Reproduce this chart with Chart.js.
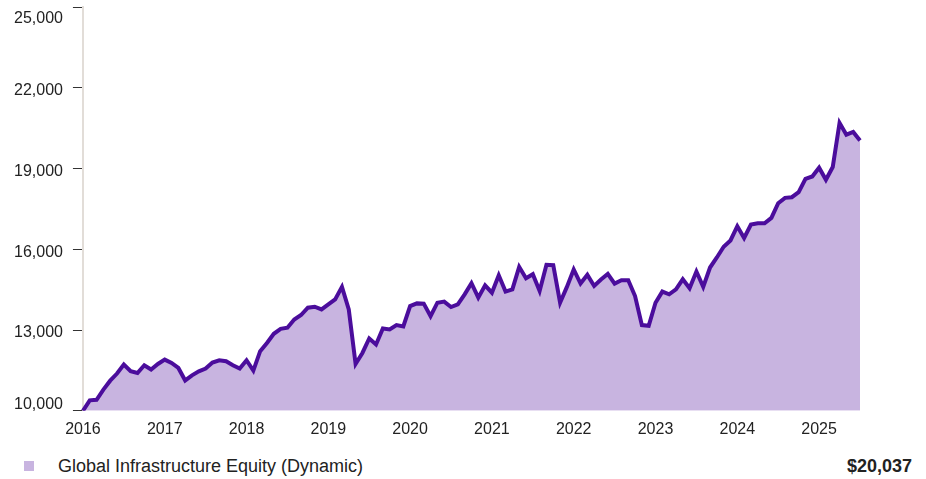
<!DOCTYPE html>
<html>
<head>
<meta charset="utf-8">
<script src="https://cdn.jsdelivr.net/npm/chart.js@4"></script>
<style>
  body { margin: 0; background: #fff; font-family: "Liberation Sans", Arial, sans-serif; }
  #wrap { position: relative; width: 926px; height: 479px; }
  #chartBox { position: absolute; left: 0; top: 0; width: 926px; height: 449px; }
  .legend { position: absolute; left: 0; top: 455px; width: 926px; height: 22px; font-size: 18px; color: #222; }
  .swatch { position: absolute; left: 24px; top: 6px; width: 10px; height: 10px; background: #c8b4e0; }
  .name { position: absolute; left: 58px; top: 1px; }
  .total { position: absolute; right: 14px; top: 1px; font-weight: bold; }
</style>
</head>
<body>
<div id="wrap">
  <div id="chartBox"><canvas id="grafico"></canvas></div>
  <div class="legend">
    <span class="swatch"></span>
    <span class="name" id="serieNombre"></span>
    <span class="total" id="serieTotal"></span>
  </div>
</div>
<script>
// datos (valor mensual de una inversion de 10.000)
const serieNombre = 'Global Infrastructure Equity (Dynamic)';
const anioInicio = 2016;
const etiquetasAnios = ['2016', '2017', '2018', '2019', '2020', '2021', '2022', '2023', '2024', '2025'];
const ticksY = [10000, 13000, 16000, 19000, 22000, 25000];
const valores = [
  10000, 10388, 10408, 10786, 11119, 11383, 11716, 11468, 11403, 11692, 11532, 11741,
  11900, 11776, 11592, 11129, 11318, 11468, 11567, 11790, 11877, 11840, 11692, 11567,
  11877, 11492, 12214, 12522, 12860, 13045, 13085, 13393, 13557, 13830, 13865, 13766,
  13955, 14139, 14602, 13766, 11741, 12149, 12686, 12463, 13060, 13020, 13184, 13134,
  13890, 13990, 13980, 13517, 14015, 14055, 13856, 13955, 14328, 14740, 14204, 14662,
  14388, 15035, 14428, 14512, 15348, 14925, 15075, 14453, 15423, 15408, 14015, 14602,
  15249, 14726, 15050, 14637, 14876, 15085, 14726, 14851, 14851, 14264, 13184, 13159,
  14015, 14428, 14328, 14512, 14885, 14552, 15174, 14602, 15323, 15696, 16094, 16328,
  16856, 16418, 16915, 16965, 16965, 17164, 17711, 17910, 17935, 18119, 18617, 18706,
  19030, 18582, 19055, 20696, 20258, 20358, 20037
];

// etiquetas mensuales (AAAA-MM)
const meses = valores.map((v, i) => {
  const anio = anioInicio + Math.floor(i / 12);
  const mes = (i % 12) + 1;
  return anio + '-' + String(mes).padStart(2, '0');
});

document.getElementById('serieNombre').textContent = serieNombre;
document.getElementById('serieTotal').textContent = '$' + valores[valores.length - 1].toLocaleString('en-US');

// las etiquetas del eje Y van un poco desplazadas respecto a sus marcas
const etiquetasY = {
  id: 'etiquetasY',
  afterDraw(chart) {
    const s = chart.scales.y;
    const c = chart.ctx;
    c.save();
    c.font = '16px "Liberation Sans", Arial';
    c.fillStyle = '#222';
    c.textAlign = 'right';
    c.textBaseline = 'middle';
    ticksY.forEach((v, i) => {
      let y = s.getPixelForValue(v);
      if (i === 0) y -= 6;
      else if (i === ticksY.length - 1) y += 12;
      else y += 3;
      c.fillText(v.toLocaleString('en-US'), s.right - 20, y);
    });
    c.restore();
  }
};

const ctx = document.getElementById('grafico').getContext('2d');
new Chart(ctx, {
  type: 'line',
  data: {
    labels: meses,
    datasets: [{
      label: serieNombre,
      data: valores,
      borderColor: '#4b0d9c',
      backgroundColor: '#c8b4e0',
      borderWidth: 4,
      pointRadius: 0,
      tension: 0,
      fill: 'start'
    }]
  },
  options: {
    responsive: true,
    maintainAspectRatio: false,
    animation: false,
    layout: { padding: { left: 4, right: 66, top: 7, bottom: 1 } },
    plugins: { legend: { display: false }, tooltip: { enabled: false } },
    scales: {
      x: {
        grid: { display: false, drawTicks: false },
        border: { display: false },
        ticks: {
          autoSkip: false,
          maxRotation: 0,
          padding: 9,
          color: '#222',
          font: { family: 'Liberation Sans, Arial', size: 16 },
          callback: function (val, idx) {
            const m = meses[idx];
            if (m.endsWith('-01')) {
              const a = m.slice(0, 4);
              return etiquetasAnios.includes(a) ? a : '';
            }
            return '';
          }
        }
      },
      y: {
        min: ticksY[0],
        max: ticksY[ticksY.length - 1],
        afterBuildTicks: (scale) => { scale.ticks = ticksY.map(v => ({ value: v })); },
        afterFit: (scale) => { scale.paddingTop = 0; scale.paddingBottom = 0; },
        grid: { drawOnChartArea: false, drawTicks: true, tickLength: 10, color: '#333', lineWidth: 1 },
        border: { display: true, color: '#e2ddd8', width: 2 },
        ticks: {
          padding: 10,
          color: 'rgba(0,0,0,0)',
          font: { family: 'Liberation Sans, Arial', size: 16 },
          callback: (v) => Number(v).toLocaleString('en-US')
        }
      }
    }
  },
  plugins: [etiquetasY]
});
</script>
</body>
</html>
